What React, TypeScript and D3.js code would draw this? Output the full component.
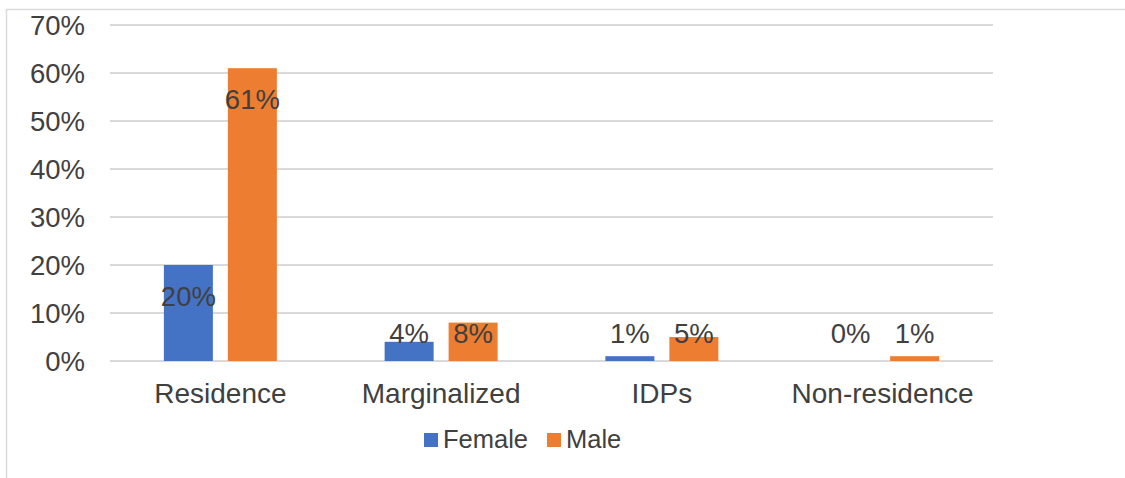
import React from "react";
import * as d3 from "d3";

const categories = ["Residence", "Marginalized", "IDPs", "Non-residence"];
const seriesNames = ["Female", "Male"];
const femaleValues = [20, 4, 1, 0];
const maleValues = [61, 8, 5, 1];
const yTicks = [0, 10, 20, 30, 40, 50, 60, 70];
const colors = ["#4472c4", "#ed7d31"];

const W = 1125;
const H = 478;
const FONT = "'Liberation Sans', Arial, sans-serif";
const TEXT = "#404040";

export default function App() {
  const x = d3.scaleBand<string>().domain(categories).range([110, 993]).paddingInner(0).paddingOuter(0);
  const groupW = 113;
  const xs = d3.scaleBand<string>().domain(seriesNames).range([0, groupW]).paddingInner(0.234).paddingOuter(0);
  const y = d3.scaleLinear().domain([0, 70]).range([361, 25]);
  const seriesValues = [femaleValues, maleValues];

  return (
    <div style={{ position: "absolute", left: 0, top: 0 }}>
      <svg width={W} height={H} style={{ display: "block", fontFamily: FONT }}>
        <rect x={0} y={0} width={W} height={H} fill="#fff" />
        <rect x={6.5} y={9.5} width={W + 20} height={H + 20} fill="none" stroke="#d9d9d9" strokeWidth={1.5} />
        {yTicks.map((t) => (
          <g key={t}>
            <line x1={110} x2={993} y1={y(t)} y2={y(t)} stroke="#d9d9d9" strokeWidth={2} />
            <text x={85} y={y(t)} textAnchor="end" dominantBaseline="central" fontSize={27.5} fill={TEXT}>
              {t}%
            </text>
          </g>
        ))}
        {seriesNames.map((s, si) =>
          categories.map((c, ci) => {
            const v = seriesValues[si][ci];
            const bx = (x(c) as number) + (x.bandwidth() - groupW) / 2 + (xs(s) as number);
            const bw = xs.bandwidth();
            const top = y(v);
            return (
              <rect key={s + c} x={bx} y={top} width={bw} height={y(0) - top} fill={colors[si]} />
            );
          })
        )}
        {seriesNames.map((s, si) =>
          categories.map((c, ci) => {
            const v = seriesValues[si][ci];
            const bx = (x(c) as number) + (x.bandwidth() - groupW) / 2 + (xs(s) as number);
            const bw = xs.bandwidth();
            const ly = Math.min(y(v) + 31, y(0) - 28);
            return (
              <text key={"l" + s + c} x={bx + bw / 2} y={ly} textAnchor="middle" dominantBaseline="central" fontSize={27.5} fill={TEXT}>
                {v}%
              </text>
            );
          })
        )}
        {categories.map((c) => (
          <text key={c} x={(x(c) as number) + x.bandwidth() / 2} y={403} textAnchor="middle" fontSize={28} fill={TEXT}>
            {c}
          </text>
        ))}
        <g>
          <rect x={424} y={433} width={14} height={14} fill={colors[0]} />
          <text x={443} y={448} fontSize={25.5} fill={TEXT}>{seriesNames[0]}</text>
          <rect x={547} y={433} width={14} height={14} fill={colors[1]} />
          <text x={566} y={448} fontSize={25.5} fill={TEXT}>{seriesNames[1]}</text>
        </g>
      </svg>
    </div>
  );
}
